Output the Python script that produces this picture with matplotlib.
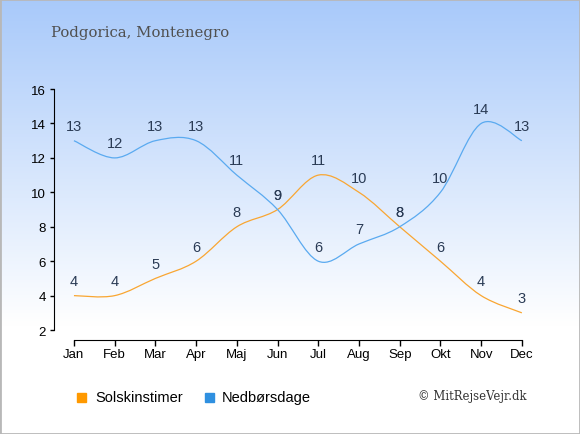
import numpy as np
import matplotlib
matplotlib.use("Agg")
import matplotlib.pyplot as plt
from matplotlib.path import Path
from matplotlib.patches import PathPatch, Rectangle

plt.rcParams["font.family"] = ["Liberation Sans", "DejaVu Sans"]

months = ["Jan", "Feb", "Mar", "Apr", "Maj", "Jun", "Jul", "Aug", "Sep", "Okt", "Nov", "Dec"]
sun_hours = [4, 4, 5, 6, 8, 9, 11, 10, 8, 6, 4, 3]
rain_days = [13, 12, 13, 13, 11, 9, 6, 7, 8, 10, 14, 13]
title = "Podgorica, Montenegro"
credit = "\u00a9 MitRejseVejr.dk"

sun_color = "#f9a632"
rain_color = "#5aaaf0"
sun_legend = "#ff9900"
rain_legend = "#2f90e0"
label_color = "#2a3b55"


def smooth_path(xs, ys):
    # catmull-rom style bezier through the points
    pts = np.column_stack([xs, ys]).astype(float)
    n = len(pts)
    verts = [pts[0]]
    codes = [Path.MOVETO]
    for i in range(n - 1):
        p0 = pts[max(i - 1, 0)]
        p1 = pts[i]
        p2 = pts[i + 1]
        p3 = pts[min(i + 2, n - 1)]
        c1 = p1 + (p2 - p0) / 6.0
        c2 = p2 - (p3 - p1) / 6.0
        verts += [c1, c2, p2]
        codes += [Path.CURVE4] * 3
    return Path(verts, codes)


fig = plt.figure(figsize=(5.8, 4.35), dpi=100)

# background gradient
bg = fig.add_axes([0, 0, 1, 1])
grad = np.linspace(0, 1, 256).reshape(-1, 1)
top = np.array([0.66, 0.79, 0.98])
bottom = np.array([1.0, 1.0, 1.0])
frac = np.clip(grad / 0.75, 0, 1)
img = top * (1 - frac) + bottom * frac
bg.imshow(img.reshape(256, 1, 3), aspect="auto", extent=[0, 1, 0, 1])
bg.add_patch(Rectangle((0, 0), 1, 1, transform=bg.transAxes, fill=False,
                       edgecolor="#b8b8b8", linewidth=2))
bg.set_axis_off()

ax = fig.add_axes([0.0931, 0.216, 0.8207, 0.577])
ax.patch.set_alpha(0)
x = np.arange(len(months))

for vals, col in [(sun_hours, sun_color), (rain_days, rain_color)]:
    ax.add_patch(PathPatch(smooth_path(x, vals), facecolor="none",
                           edgecolor=col, linewidth=0.9))
    for xi, v in zip(x, vals):
        ax.annotate(str(v), (xi, v), xytext=(0, 5.5), textcoords="offset points",
                    ha="center", va="bottom", fontsize=10.5, color=label_color)

ax.set_xlim(-0.49, 11.2)
ax.set_ylim(1.42, 16)
ax.set_xticks(x)
ax.set_xticklabels(months)
ax.set_yticks(range(2, 17, 2))
ax.spines["top"].set_visible(False)
ax.spines["right"].set_visible(False)
ax.spines["left"].set_bounds(2, 16)
ax.spines["bottom"].set_bounds(0, 11)
ax.tick_params(labelsize=9.5, length=4, width=1, direction="out", pad=2)
ax.tick_params(axis="y", length=3, pad=3)

fig.text(0.088, 0.925, title, family="DejaVu Serif", fontsize=10.7,
         color="#505050", va="center")

# legend
fig.patches.append(Rectangle((77 / 580, 1 - 403 / 435), 9 / 580, 9 / 435,
                             transform=fig.transFigure, color=sun_legend))
fig.text(95 / 580, 1 - 398 / 435, "Solskinstimer", fontsize=10.5, va="center")
fig.patches.append(Rectangle((205 / 580, 1 - 403 / 435), 9 / 580, 9 / 435,
                             transform=fig.transFigure, color=rain_legend))
fig.text(222 / 580, 1 - 398 / 435, "Nedb\u00f8rsdage", fontsize=10.5, va="center")
fig.text(418 / 580, 1 - 397 / 435, credit, family="DejaVu Serif", fontsize=8.4,
         color="#333333", va="center")

fig.savefig("out.png", dpi=100)
